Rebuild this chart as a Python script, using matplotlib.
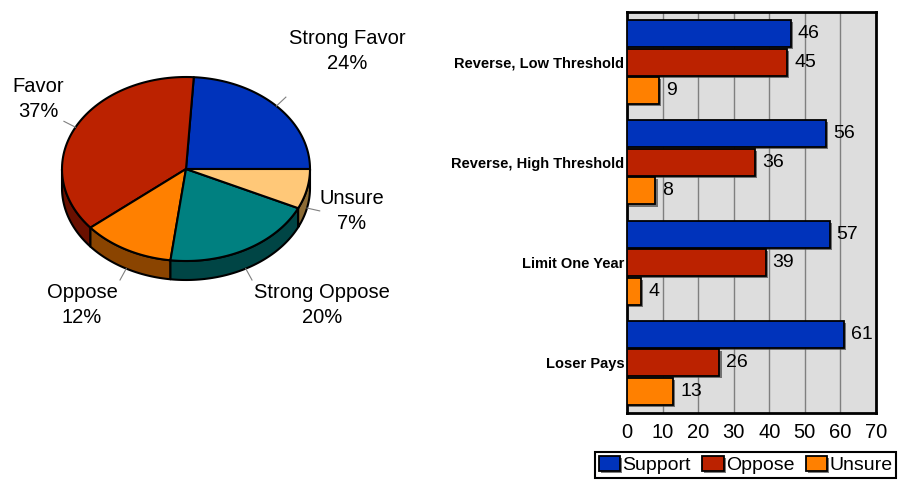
import numpy as np
import matplotlib
matplotlib.use('Agg')
import matplotlib.pyplot as plt
from matplotlib.patches import Polygon
from matplotlib import patheffects as pe

plt.rcParams['font.family'] = ['Liberation Sans', 'DejaVu Sans']

# dati torta
pie_labels = ['Strong Favor', 'Favor', 'Oppose', 'Strong Oppose', 'Unsure']
pie_values = [24, 37, 12, 20, 7]
pie_colors = ['#0033BB', '#BB2200', '#FF8000', '#008080', '#FFC878']
side_colors = ['#001a5e', '#6a1000', '#8a4400', '#004545', '#8c6b35']

# dati barre
categories = ['Reverse, Low Threshold', 'Reverse, High Threshold', 'Limit One Year', 'Loser Pays']
support = [46, 56, 57, 61]
oppose = [45, 36, 39, 26]
unsure = [9, 8, 4, 13]
x_ticks = [0, 10, 20, 30, 40, 50, 60, 70]

fig = plt.figure(figsize=(9.04, 4.8), dpi=100)

# ---- torta 3D in coordinate pixel ----
axp = fig.add_axes([0, 0, 440 / 904, 1])
axp.set_xlim(0, 440)
axp.set_ylim(480, 0)
axp.axis('off')
cx, cy, a, b, depth = 186, 169, 124, 92, 19

def ell(t):
    return cx + a * np.cos(t), cy - b * np.sin(t)

bounds = np.concatenate([[0], np.cumsum(pie_values)]) / sum(pie_values) * 2 * np.pi

# lati visibili (metà anteriore)
for i in range(len(pie_values)):
    s0, s1 = max(bounds[i], np.pi), min(bounds[i + 1], 2 * np.pi)
    if s1 <= s0:
        continue
    t = np.linspace(s0, s1, 60)
    x, y = ell(t)
    pts = np.column_stack([np.r_[x, x[::-1]], np.r_[y, y[::-1] + depth]])
    axp.add_patch(Polygon(pts, closed=True, fc=side_colors[i], ec='black', lw=1.5, joinstyle='round'))

# facce superiori
for i in range(len(pie_values)):
    t = np.linspace(bounds[i], bounds[i + 1], 80)
    x, y = ell(t)
    pts = np.column_stack([np.r_[cx, x], np.r_[cy, y]])
    axp.add_patch(Polygon(pts, closed=True, fc=pie_colors[i], ec='black', lw=1.5, joinstyle='round'))

# etichette e linee guida
label_pos = [(347, 51), (38, 99), (82, 305), (322, 305), (352, 211)]
for i, (lab, v) in enumerate(zip(pie_labels, pie_values)):
    m = (bounds[i] + bounds[i + 1]) / 2
    x0, y0 = ell(m)
    if np.sin(m) < 0:
        y0 += depth
    L = 13
    axp.plot([x0, x0 + L * np.cos(m)], [y0, y0 - L * np.sin(m)], color='#808080', lw=0.8)
    axp.text(label_pos[i][0], label_pos[i][1], f'{lab}\n{v}%', ha='center', va='center',
             multialignment='center', fontsize=14.5, linespacing=1.4)

# ---- barre orizzontali ----
axb = fig.add_axes([627 / 904, 67 / 480, 249 / 904, 401 / 480])
axb.set_facecolor('#DDDDDD')
ypos = np.arange(len(categories))
h = 0.27
off = 0.285
shadow = [pe.SimplePatchShadow(offset=(1.5, -1.5), shadow_rgbFace='#444444', alpha=0.7), pe.Normal()]
for vals, col, d, name in [(support, '#0033BB', -off, 'Support'),
                           (oppose, '#BB2200', 0, 'Oppose'),
                           (unsure, '#FF8000', off, 'Unsure')]:
    bars = axb.barh(ypos + d, vals, height=h, color=col, edgecolor='black', lw=1.3,
                    label=name, zorder=3)
    for bar, v in zip(bars, vals):
        bar.set_path_effects(shadow)
        axb.annotate(str(v), (v, bar.get_y() + h / 2), xytext=(5, 0), textcoords='offset points',
                     va='center', ha='left', fontsize=14)

axb.set_xlim(0, 70)
axb.set_ylim(3.5, -0.5)
axb.set_xticks(x_ticks)
axb.set_xticklabels([str(t) for t in x_ticks], fontsize=14.5)
axb.set_yticks(ypos)
axb.set_yticklabels(categories, fontsize=10.5, fontweight='bold')
axb.tick_params(axis='x', length=0, pad=7)
axb.tick_params(axis='y', length=0, pad=2)
axb.grid(axis='x', color='#7f7f7f', lw=1)
axb.set_axisbelow(True)
for s in axb.spines.values():
    s.set_linewidth(2)
    s.set_color('black')

leg = fig.legend(loc='upper left', bbox_to_anchor=(595 / 904, 1 - 452 / 480), ncol=3,
                 frameon=True, fancybox=False, edgecolor='black', fontsize=14,
                 handlelength=1.1, handleheight=0.8, handletextpad=0.1,
                 columnspacing=0.6, borderpad=0.2, borderaxespad=0)
leg.get_frame().set_linewidth(1.5)
leg.get_frame().set_alpha(1)

fig.savefig('out.png', dpi=100)
